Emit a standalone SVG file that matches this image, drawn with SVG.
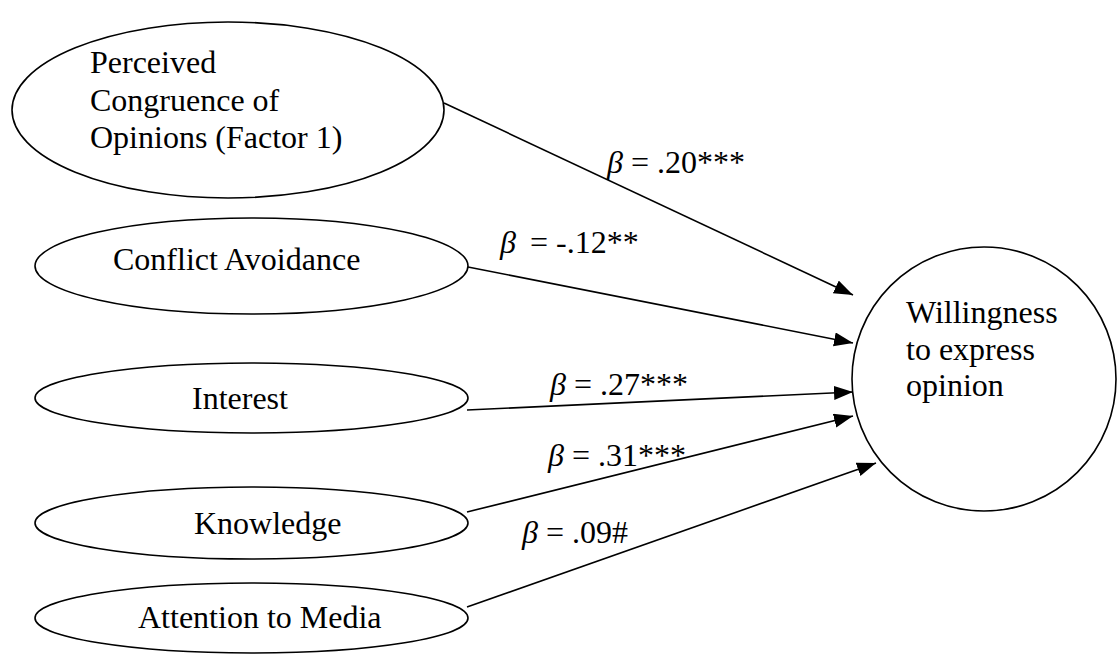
<svg xmlns="http://www.w3.org/2000/svg" width="1118" height="654" viewBox="0 0 1118 654">
<style>
  .shape { fill: #fff; stroke: #000; stroke-width: 1.6; }
  .t { font-family: "Liberation Serif", "Times New Roman", serif; font-size: 32px; fill: #000; }
  .b { font-style: italic; }
  .edge { stroke: #000; stroke-width: 1.6; fill: none; marker-end: url(#arr); }
</style>
<defs>
  <marker id="arr" markerUnits="userSpaceOnUse" markerWidth="20" markerHeight="16" refX="19" refY="7" orient="auto">
    <path d="M0,0 L19,7 L0,14 Z" fill="#000"/>
  </marker>
</defs>
<rect width="1118" height="654" fill="#fff"/>
<g id="connectors">
  <line class="edge" x1="444" y1="103" x2="853" y2="295"/>
  <line class="edge" x1="468" y1="267" x2="853" y2="343"/>
  <line class="edge" x1="467" y1="410" x2="853" y2="392"/>
  <line class="edge" x1="467" y1="512" x2="853" y2="416"/>
  <line class="edge" x1="467" y1="607" x2="876" y2="463"/>
</g>
<g id="labels">
  <text class="t" x="607" y="173"><tspan class="b">β</tspan> = .20***</text>
  <text class="t" x="500" y="253"><tspan class="b">β</tspan><tspan dx="14">= -.12**</tspan></text>
  <text class="t" x="550" y="395"><tspan class="b">β</tspan> = .27***</text>
  <text class="t" x="548" y="466"><tspan class="b">β</tspan> = .31***</text>
  <text class="t" x="522" y="543"><tspan class="b">β</tspan> = .09#</text>
</g>
<g id="perceived">
  <ellipse class="shape" cx="228" cy="110" rx="216" ry="88"/>
  <text class="t" x="90" y="73">Perceived</text>
  <text class="t" x="90" y="111">Congruence of</text>
  <text class="t" x="90" y="148">Opinions (Factor 1)</text>
</g>
<g id="conflict">
  <ellipse class="shape" cx="251.5" cy="266" rx="216.5" ry="48"/>
  <text class="t" x="113" y="270">Conflict Avoidance</text>
</g>
<g id="interest">
  <ellipse class="shape" cx="251.5" cy="398" rx="216.5" ry="35"/>
  <text class="t" x="192" y="409">Interest</text>
</g>
<g id="knowledge">
  <ellipse class="shape" cx="251.5" cy="523" rx="216.5" ry="36"/>
  <text class="t" x="194" y="534">Knowledge</text>
</g>
<g id="attention">
  <ellipse class="shape" cx="251.5" cy="618" rx="216.5" ry="35"/>
  <text class="t" x="138" y="628">Attention to Media</text>
</g>
<g id="willingness">
  <circle class="shape" cx="984" cy="379" r="132"/>
  <text class="t" x="906" y="323">Willingness</text>
  <text class="t" x="906" y="360">to express</text>
  <text class="t" x="906" y="396">opinion</text>
</g>
</svg>
